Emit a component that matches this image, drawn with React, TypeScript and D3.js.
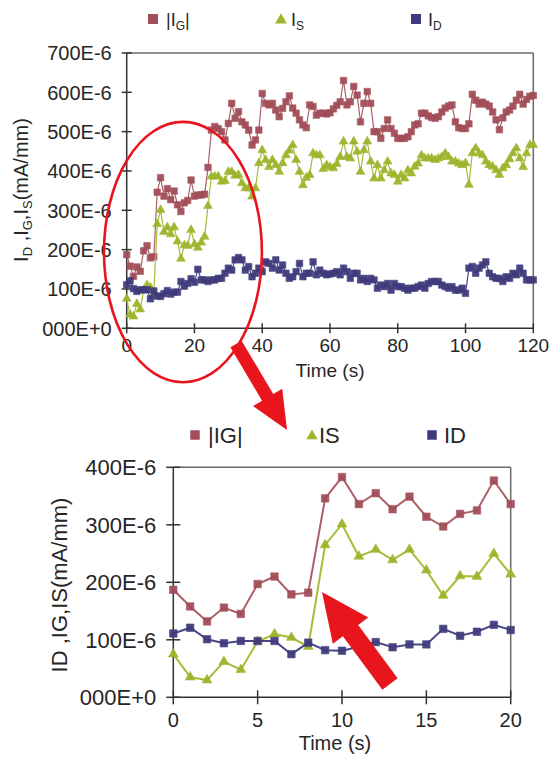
import React from 'react';
import * as d3 from 'd3';

// ---------- DATA ----------
const seconds: number[] = d3.range(0, 121);
const igValues: number[] = [
  187, 158, 132, 156, 145, 197, 210, 179, 182, 346, 383, 336, 355, 327, 349, 314, 297, 319, 325, 377, 336,
  339, 339, 341, 409, 504, 513, 508, 500, 479, 521,
  572, 534, 551, 525, 517, 504, 466, 479, 504, 597,
  572, 568, 572, 555, 538, 559, 576, 591, 560, 547,
  530, 517, 510, 568, 564, 542, 547, 547, 545, 548,
  558, 567, 576, 630, 568, 576, 615, 593, 525, 572,
  602, 572, 500, 500, 483, 508, 530, 508, 496, 483,
  483, 483, 487, 500, 517, 520, 547, 547, 540, 536,
  534, 538, 550, 560, 565, 568, 525, 510, 508, 508,
  520, 595, 580, 570, 575, 570, 565, 550, 530, 505,
  535, 550, 555, 565, 580, 595, 570, 582, 590, 592,
];
const isValues: number[] = [
  75, 35, 30, 62, 48, 97, 110, 104, 88, 265, 301, 245, 257, 239, 257, 221, 177, 211, 210, 250, 214,
  205, 218, 233, 311, 386, 386, 386, 373, 375, 398,
  398, 388, 390, 369, 356, 356, 335, 356, 420, 453,
  428, 410, 428, 415, 398, 420, 440, 452, 466, 428,
  398, 364, 383, 390, 445, 440, 440, 405, 415, 410,
  407, 418, 436, 475, 436, 432, 475, 449, 398, 453,
  475, 424, 381, 415, 381, 402, 424, 394, 390, 373,
  390, 381, 402, 394, 411, 419, 440, 432, 432, 432,
  428, 432, 436, 445, 436, 424, 424, 419, 415, 420,
  365, 445, 458, 445, 440, 424, 415, 411, 402, 390,
  407, 415, 430, 445, 458, 432, 410, 445, 466, 466,
];
const idValues: number[] = [
  111, 121, 101, 94, 98, 98, 98, 75, 95, 82, 81, 88, 96, 87, 92, 92, 119, 107, 114, 126, 117,
  150, 123, 123, 119, 123, 123, 127, 127, 140, 153,
  148, 174, 180, 174, 148, 157, 131, 140, 153, 144,
  169, 165, 153, 174, 148, 161, 140, 127, 131, 144,
  165, 131, 140, 140, 169, 136, 148, 140, 136, 138,
  140, 144, 136, 153, 144, 127, 140, 140, 123, 127,
  119, 127, 123, 102, 110, 106, 114, 97, 114, 106,
  106, 102, 97, 102, 102, 106, 110, 102, 114, 119,
  119, 119, 110, 106, 102, 106, 97, 97, 102, 89,
  153, 157, 140, 153, 161, 169, 140, 131, 127, 127,
  119, 131, 127, 140, 136, 153, 140, 123, 123, 123,
];
const zoomEnd = 20;

const topYTicks: number[] = [0, 100, 200, 300, 400, 500, 600, 700];
const topYLabels: string[] = ['000E+0', '100E-6', '200E-6', '300E-6', '400E-6', '500E-6', '600E-6', '700E-6'];
const topXTicks: number[] = [0, 20, 40, 60, 80, 100, 120];
const botYTicks: number[] = [0, 100, 200, 300, 400];
const botYLabels: string[] = ['000E+0', '100E-6', '200E-6', '300E-6', '400E-6'];
const botXTicks: number[] = [0, 5, 10, 15, 20];

// ---------- STYLE ----------
const FONT = '"Liberation Sans", Arial, Helvetica, sans-serif';
const TXT = '#262626';
const C_IG = '#A24E58';
const C_IG_LINE = '#AD5E66';
const C_IS = '#9DB52C';
const C_IS_LINE = '#A6BC36';
const C_ID = '#403B7C';
const C_ID_LINE = '#4B4787';
const RED = '#E8151D';

type Series = { key: string; values: number[]; color: string; line: string; shape: 'square' | 'triangle' };
const series: Series[] = [
  { key: 'IG', values: igValues, color: C_IG, line: C_IG_LINE, shape: 'square' },
  { key: 'IS', values: isValues, color: C_IS, line: C_IS_LINE, shape: 'triangle' },
  { key: 'ID', values: idValues, color: C_ID, line: C_ID_LINE, shape: 'square' },
];

function markerPath(shape: 'square' | 'triangle', size: number) {
  const sym = shape === 'square' ? d3.symbolSquare : d3.symbolTriangle;
  return d3.symbol().type(sym).size(size)() as string;
}

function arrowPoints(x0: number, y0: number, x1: number, y1: number, sw: number, hw: number, hl: number) {
  const dx = x1 - x0, dy = y1 - y0;
  const L = Math.hypot(dx, dy);
  const ux = dx / L, uy = dy / L;
  const px = -uy, py = ux;
  const bx = x1 - ux * hl, by = y1 - uy * hl;
  const pts = [
    [x0 + px * sw / 2, y0 + py * sw / 2],
    [bx + px * sw / 2, by + py * sw / 2],
    [bx + px * hw / 2, by + py * hw / 2],
    [x1, y1],
    [bx - px * hw / 2, by - py * hw / 2],
    [bx - px * sw / 2, by - py * sw / 2],
    [x0 - px * sw / 2, y0 - py * sw / 2],
  ];
  return pts.map((p) => p.join(',')).join(' ');
}

type PanelProps = {
  xDomain: [number, number];
  yDomain: [number, number];
  xRange: [number, number];
  yRange: [number, number];
  n: number;
  xTicks: number[];
  yTicks: number[];
  yLabels: string[];
  yFont: number;
  xFont: number;
  xLabelY: number;
  titleY: number;
  titleX: number;
  markerSize: number;
  triSize: number;
  lineWidth: number;
  tickLen: number;
  yLabelGap: number;
};

function Panel(p: PanelProps) {
  const x = d3.scaleLinear().domain(p.xDomain).range(p.xRange);
  const y = d3.scaleLinear().domain(p.yDomain).range(p.yRange);
  const [x0, x1] = p.xRange;
  const [y0, y1] = p.yRange;
  const line = d3
    .line<number>()
    .x((_, i) => x(seconds[i]))
    .y((d) => y(d));
  return (
    <g>
      {/* frame */}
      <line x1={x0} x2={x1} y1={y1} y2={y1} stroke="#6a6a6a" strokeWidth={1.5} />
      <line x1={x1} x2={x1} y1={y1} y2={y0} stroke="#6a6a6a" strokeWidth={1.5} />
      <line x1={x0} x2={x0} y1={y1} y2={y0} stroke="#333" strokeWidth={1.5} />
      <line x1={x0} x2={x1} y1={y0} y2={y0} stroke="#333" strokeWidth={1.5} />
      {p.yTicks.map((t, i) => (
        <g key={'yt' + t}>
          <line x1={x0 - p.tickLen} x2={x0 + p.tickLen} y1={y(t)} y2={y(t)} stroke="#333" strokeWidth={1.5} />
          <text x={x0 - p.yLabelGap} y={y(t)} dy="0.36em" textAnchor="end" fontSize={p.yFont} fill={TXT} fontFamily={FONT}>
            {p.yLabels[i]}
          </text>
        </g>
      ))}
      {p.xTicks.map((t) => (
        <g key={'xt' + t}>
          <line x1={x(t)} x2={x(t)} y1={y0 - p.tickLen} y2={y0 + p.tickLen} stroke="#333" strokeWidth={1.5} />
          <text x={x(t)} y={p.xLabelY} textAnchor="middle" fontSize={p.xFont} fill={TXT} fontFamily={FONT}>
            {t}
          </text>
        </g>
      ))}
      <text x={p.titleX} y={p.titleY} textAnchor="middle" fontSize={p.xFont} fill={TXT} fontFamily={FONT}>
        Time (s)
      </text>
      {series.map((s) => {
        const vals = s.values.slice(0, p.n);
        return (
          <g key={s.key}>
            <path d={line(vals) as string} fill="none" stroke={s.line} strokeWidth={p.lineWidth} />
            {vals.map((v, i) => (
              <path
                key={i}
                d={markerPath(s.shape, s.shape === 'square' ? p.markerSize : p.triSize)}
                transform={`translate(${x(seconds[i])},${y(v)})`}
                fill={s.color}
                stroke={s.color}
                strokeWidth={0.6}
                opacity={0.95}
              />
            ))}
          </g>
        );
      })}
    </g>
  );
}

export default function App() {
  // top panel geometry
  const topX: [number, number] = [126.7, 533.3];
  const topY: [number, number] = [328.3, 53];
  const botX: [number, number] = [173.3, 510.7];
  const botY: [number, number] = [697.3, 467.3];
  const topXs = d3.scaleLinear().domain([0, 120]).range(topX);
  const topYs = d3.scaleLinear().domain([0, 700]).range(topY);

  // ellipse in top-chart data coordinates
  const ellCx = topXs(16.6), ellCy = topYs(194);
  const ellRx = topXs(16.6 + 23.3) - ellCx;
  const ellRy = ellCy - topYs(194 + 331);

  return (
    <svg
      width={558}
      height={766}
      viewBox="0 0 558 766"
      style={{ position: 'absolute', left: 0, top: 0, background: '#fff' }}
      xmlns="http://www.w3.org/2000/svg"
    >
      <rect x={0} y={0} width={558} height={766} fill="#fff" />

      {/* ---- top legend ---- */}
      <g fontFamily={FONT} fill={TXT}>
        <path d={markerPath('square', 100)} transform="translate(153,19)" fill={C_IG} />
        <text x={166} y={26} fontSize={18}>
          |I<tspan fontSize={12} dy={4}>G</tspan><tspan dy={-4}>|</tspan>
        </text>
        <path d={markerPath('triangle', 60)} transform="translate(281,20)" fill={C_IS} />
        <text x={291} y={26} fontSize={18}>
          I<tspan fontSize={12} dy={4}>S</tspan>
        </text>
        <path d={markerPath('square', 100)} transform="translate(416,19)" fill={C_ID} />
        <text x={428} y={26} fontSize={18}>
          I<tspan fontSize={12} dy={4}>D</tspan>
        </text>
      </g>

      <Panel
        xDomain={[0, 120]}
        yDomain={[0, 700]}
        xRange={topX}
        yRange={topY}
        n={121}
        xTicks={topXTicks}
        yTicks={topYTicks}
        yLabels={topYLabels}
        yFont={20}
        xFont={19}
        xLabelY={352}
        titleX={330}
        titleY={377}
        markerSize={42}
        triSize={34}
        lineWidth={1.2}
        tickLen={5}
        yLabelGap={15}
      />

      {/* top y title */}
      <text
        transform="translate(28,190) rotate(-90)"
        textAnchor="middle"
        fontSize={20}
        fill={TXT}
        fontFamily={FONT}
      >
        I<tspan fontSize={13} dy={4}>D</tspan><tspan dy={-4}> ,I</tspan>
        <tspan fontSize={13} dy={4}>G</tspan><tspan dy={-4}>,I</tspan>
        <tspan fontSize={13} dy={4}>S</tspan><tspan dy={-4}>(mA/mm)</tspan>
      </text>

      {/* ---- bottom legend ---- */}
      <g fontFamily={FONT} fill={TXT}>
        <path d={markerPath('square', 90)} transform="translate(195,435)" fill={C_IG} />
        <text x={208} y={443} fontSize={22}>|IG|</text>
        <path d={markerPath('triangle', 55)} transform="translate(312,436)" fill={C_IS} />
        <text x={319} y={443} fontSize={22}>IS</text>
        <path d={markerPath('square', 90)} transform="translate(432,435)" fill={C_ID} />
        <text x={444} y={443} fontSize={22}>ID</text>
      </g>

      <Panel
        xDomain={[0, 20]}
        yDomain={[0, 400]}
        xRange={botX}
        yRange={botY}
        n={zoomEnd + 1}
        xTicks={botXTicks}
        yTicks={botYTicks}
        yLabels={botYLabels}
        yFont={22}
        xFont={20}
        xLabelY={727}
        titleX={335}
        titleY={750}
        markerSize={56}
        triSize={42}
        lineWidth={2}
        tickLen={7}
        yLabelGap={17}
      />

      {/* bottom y title */}
      <text
        transform="translate(67,585) rotate(-90)"
        textAnchor="middle"
        fontSize={22}
        fill={TXT}
        fontFamily={FONT}
      >
        ID ,IG,IS(mA/mm)
      </text>

      {/* ---- annotations ---- */}
      <ellipse cx={ellCx} cy={ellCy} rx={ellRx} ry={ellRy} fill="none" stroke={RED} strokeWidth={2.6} />
      <polygon points={arrowPoints(236, 344, 287, 430, 13, 34, 38)} fill={RED} />
      <polygon points={arrowPoints(390, 684, 322, 592, 19, 44, 48)} fill={RED} />
    </svg>
  );
}
